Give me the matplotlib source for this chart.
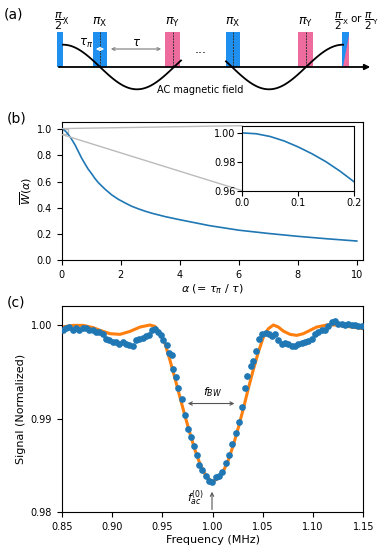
import numpy as np
import matplotlib.pyplot as plt
from matplotlib.patches import Rectangle, Polygon
from mpl_toolkits.axes_grid1.inset_locator import mark_inset

plt.rcParams['font.family'] = 'DejaVu Sans'
plt.rcParams['mathtext.fontset'] = 'dejavusans'

# (a) pulse sequence (schematic units, same scale as the sketch)
pulse_center = [60, 100, 172.5, 233, 305.5, 345.5]
pulse_width = [6, 14, 15, 14, 15, 7]
pulse_kind = ['X', 'X', 'Y', 'X', 'Y', 'XY']
pulse_label = [r'$\dfrac{\pi}{2}_\mathrm{X}$', r'$\pi_\mathrm{X}$', r'$\pi_\mathrm{Y}$',
               r'$\pi_\mathrm{X}$', r'$\pi_\mathrm{Y}$',
               r'$\dfrac{\pi}{2}_\mathrm{X}$ or $\dfrac{\pi}{2}_\mathrm{Y}$']

# (b) averaged filter weight vs alpha
alpha = [0, 0.025, 0.05, 0.075, 0.1, 0.125, 0.15, 0.175, 0.2, 0.3, 0.4, 0.452,
         0.565, 0.678, 0.79, 0.9, 1.02, 1.13, 1.24, 1.47, 1.7, 1.92, 2.15, 2.37,
         2.6, 2.83, 3.05, 3.5, 4.0, 5.0, 6.0, 7.0, 8.0, 9.0, 10.0]
w_bar = [1.0, 0.9994, 0.9975, 0.9944, 0.9903, 0.9855, 0.98, 0.9735, 0.9662,
         0.936, 0.9, 0.88, 0.829, 0.778, 0.735, 0.694, 0.658, 0.622, 0.592,
         0.541, 0.497, 0.464, 0.436, 0.411, 0.391, 0.373, 0.358, 0.332, 0.308,
         0.263, 0.228, 0.203, 0.181, 0.162, 0.145]

# (c) measured signal
freq = [0.851, 0.8543, 0.8576, 0.8609, 0.8643, 0.8676, 0.8709, 0.8742, 0.8775,
        0.8808, 0.8841, 0.8875, 0.8908, 0.8941, 0.8974, 0.9007, 0.904, 0.9073,
        0.9107, 0.914, 0.9173, 0.9206, 0.9239, 0.9272, 0.9306, 0.9339, 0.9372,
        0.9395, 0.9428, 0.9461, 0.9488, 0.9511, 0.9544, 0.9571, 0.9594, 0.9604,
        0.9634, 0.966, 0.9693, 0.9727, 0.9753, 0.9783, 0.9816, 0.9843, 0.9869,
        0.9899, 0.9932, 0.9965, 0.9998, 1.0032, 1.0065, 1.0098, 1.0131, 1.0164,
        1.0197, 1.023, 1.0264, 1.0297, 1.0323, 1.0346, 1.038, 1.04, 1.0429,
        1.0462, 1.0496, 1.0529, 1.0562, 1.0595, 1.0622, 1.0655, 1.0688, 1.0721,
        1.0754, 1.0787, 1.082, 1.0854, 1.0887, 1.092, 1.0953, 1.0986, 1.1019,
        1.1053, 1.1086, 1.1119, 1.1152, 1.1185, 1.1218, 1.1251, 1.1285, 1.1318,
        1.1351, 1.1384, 1.1417, 1.145, 1.1483]
signal = [0.99954, 0.99968, 0.99986, 0.99947, 0.99972, 0.99947, 0.99968, 0.99975,
          0.99947, 0.99947, 0.99925, 0.99932, 0.99911, 0.99858, 0.99847, 0.99822,
          0.99818, 0.99804, 0.99822, 0.99797, 0.99786, 0.99783, 0.99847, 0.99854,
          0.99868, 0.99886, 0.99893, 0.99954, 0.99964, 0.99929, 0.999, 0.9984,
          0.99786, 0.99705, 0.99687, 0.99537, 0.99448, 0.99334, 0.99217, 0.99036,
          0.98893, 0.98808, 0.98709, 0.98612, 0.98505, 0.98452, 0.98391, 0.98334,
          0.98327, 0.98381, 0.98391, 0.98434, 0.98523, 0.98612, 0.98729, 0.9885,
          0.98968, 0.99128, 0.99334, 0.99459, 0.99562, 0.99619, 0.99726, 0.99858,
          0.99904, 0.99918, 0.99904, 0.99883, 0.99904, 0.99847, 0.99804, 0.99811,
          0.99797, 0.99783, 0.99776, 0.99797, 0.99811, 0.99818, 0.99833, 0.99858,
          0.99904, 0.99929, 0.99954, 0.99947, 0.99989, 1.00036, 1.00046, 1.00011,
          1.00018, 1.0, 1.00018, 1.0, 1.0, 0.99993, 0.99993]

# (c) fitted curve
fit_freq = [0.85, 0.8616, 0.8715, 0.8815, 0.8881, 0.8981, 0.908, 0.918, 0.9279,
            0.9378, 0.9428, 0.9478, 0.9528, 0.9577, 0.9627, 0.9677, 0.9727, 0.9776,
            0.9826, 0.9876, 0.9925, 0.9975, 1.0008, 1.0058, 1.0108, 1.0157, 1.0207,
            1.0257, 1.0307, 1.0356, 1.0406, 1.0456, 1.0506, 1.0555, 1.0605, 1.0655,
            1.0704, 1.0771, 1.0837, 1.0903, 1.097, 1.1036, 1.1136, 1.1235, 1.1335,
            1.1434, 1.15]
fit_signal = [0.99982, 1.0, 1.0, 0.99975, 0.99947, 0.99911, 0.99904, 0.99936,
              0.99982, 1.00004, 0.99989, 0.99918, 0.99804, 0.99626, 0.99431,
              0.99228, 0.99028, 0.98843, 0.98665, 0.98516, 0.98409, 0.98345,
              0.98334, 0.98363, 0.98441, 0.98559, 0.98719, 0.98907, 0.9911,
              0.99324, 0.99527, 0.99715, 0.99875, 0.99964, 1.00004, 0.99982,
              0.99939, 0.99904, 0.99893, 0.99911, 0.99947, 0.99982, 1.00004,
              1.00004, 0.99989, 0.99975, 0.99964]

blue_pulse = '#1f8ff0'
pink_pulse = '#ee6b9e'

fig = plt.figure(figsize=(3.8, 5.5), dpi=100)

# ---------------- (a) schematic ----------------
ax_a = fig.add_axes([0, 1 - 100 / 550, 1, 100 / 550])
ax_a.set_xlim(0, 380)
ax_a.set_ylim(100, 0)
ax_a.axis('off')

base_y, top_y = 67, 32
for c, w, k, lab in zip(pulse_center, pulse_width, pulse_kind, pulse_label):
    col = pink_pulse if k == 'Y' else blue_pulse
    ax_a.add_patch(Rectangle((c - w / 2, top_y), w, base_y - top_y, color=col, lw=0, zorder=1))
    if k == 'XY':
        ax_a.add_patch(Polygon([(c + w / 2, top_y + 3), (c + w / 2, base_y), (c - w / 2 + 0.5, base_y)],
                               color=pink_pulse, lw=0, zorder=1))
    if w > 10:
        ax_a.plot([c, c], [top_y, base_y], color='#333333', lw=0.7, ls=(0, (2, 1)), zorder=2)
    if k == 'XY':
        ax_a.text(379, 21, lab, ha='right', va='center', fontsize=7.5)
    elif w < 10:
        ax_a.text(c + 2, 21, lab, ha='center', va='center', fontsize=8)
    else:
        ax_a.text(c, 22, lab, ha='center', va='center', fontsize=9)

ax_a.annotate('', xy=(373, base_y), xytext=(56, base_y),
              arrowprops=dict(arrowstyle='-|>', color='black', lw=1.3, mutation_scale=8), zorder=3)

# AC field sketch
half = 74
amp = 22.3
for x0, x1, xc in [(63, 181, 100), (226, 343, 232)]:
    xs = np.linspace(x0, x1, 120)
    ax_a.plot(xs, base_y + amp * np.sin(np.pi * (xs - xc) / half), color='black', lw=1.3, zorder=4)

ax_a.annotate('', xy=(93, 49), xytext=(107, 49),
              arrowprops=dict(arrowstyle='<->', color='white', lw=0.9, mutation_scale=5), zorder=5)
ax_a.annotate('', xy=(108, 49), xytext=(164, 49),
              arrowprops=dict(arrowstyle='<->', color='#888888', lw=0.9, mutation_scale=5), zorder=5)
ax_a.text(86, 43, r'$\tau_\pi$', ha='center', va='center', fontsize=8.5)
ax_a.text(137, 42, r'$\tau$', ha='center', va='center', fontsize=8.5)
ax_a.text(201, 49, '...', ha='center', va='center', fontsize=9)
ax_a.text(200, 90, 'AC magnetic field', ha='center', va='center', fontsize=7)
ax_a.text(4, 15, '(a)', ha='left', va='center', fontsize=10)

# ---------------- (b) ----------------
ax_b = fig.add_axes([0.1624, 0.5273, 0.7937, 0.2503])
ax_b.plot(alpha, w_bar, color='#1f77b4', lw=1.2)
ax_b.set_xlim(0, 10.22)
ax_b.set_ylim(0, 1.053)
ax_b.set_xticks([0, 2, 4, 6, 8, 10])
ax_b.set_yticks([0.0, 0.2, 0.4, 0.6, 0.8, 1.0])
ax_b.set_yticklabels(['0.0', '0.2', '0.4', '0.6', '0.8', '1.0'])
ax_b.tick_params(labelsize=7)
ax_b.set_xlabel(r'$\alpha$ (= $\tau_\pi$ / $\tau$)', fontsize=8, labelpad=2)
ax_b.set_ylabel(r'$\overline{W}(\alpha)$', fontsize=8, labelpad=2)
fig.text(0.018, 1 - 118 / 550, '(b)', ha='left', va='center', fontsize=10)

axins = fig.add_axes([0.6376, 0.6533, 0.294, 0.1182])
axins.plot(alpha, w_bar, color='#1f77b4', lw=1.2)
axins.set_xlim(0, 0.2)
axins.set_ylim(0.96, 1.005)
axins.set_xticks([0.0, 0.1, 0.2])
axins.set_yticks([0.96, 0.98, 1.00])
axins.set_yticklabels(['0.96', '0.98', '1.00'])
axins.tick_params(labelsize=7, pad=1.5)
mark_inset(ax_b, axins, loc1=2, loc2=3, fc='none', ec='#bbbbbb', lw=1)

# ---------------- (c) ----------------
ax_c = fig.add_axes([0.1624, 0.0685, 0.7937, 0.3756])
ax_c.plot(fit_freq, fit_signal, color='#ff7f0e', lw=2.2, zorder=2)
ax_c.plot(freq, signal, 'o', color='#1f77b4', ms=3.8, zorder=3)
ax_c.set_xlim(0.85, 1.15)
ax_c.set_ylim(0.98, 1.0021)
ax_c.set_xticks([0.85, 0.90, 0.95, 1.00, 1.05, 1.10, 1.15])
ax_c.set_xticklabels(['0.85', '0.90', '0.95', '1.00', '1.05', '1.10', '1.15'])
ax_c.set_yticks([0.98, 0.99, 1.00])
ax_c.set_yticklabels(['0.98', '0.99', '1.00'])
ax_c.tick_params(labelsize=7)
ax_c.set_xlabel('Frequency (MHz)', fontsize=8, labelpad=2)
ax_c.set_ylabel('Signal (Normalized)', fontsize=8, labelpad=3)

ax_c.annotate('', xy=(0.9726, 0.99164), xytext=(1.0246, 0.99164),
              arrowprops=dict(arrowstyle='<->', color='#555555', lw=0.8, mutation_scale=6))
ax_c.text(1.0005, 0.9929, r'$f_{BW}$', ha='center', va='center', fontsize=8)
ax_c.annotate('', xy=(0.9995, 0.9825), xytext=(0.9995, 0.98),
              arrowprops=dict(arrowstyle='->', color='#555555', lw=0.8, mutation_scale=6))
ax_c.text(0.9826, 0.9815, r'$f_{ac}^{(0)}$', ha='center', va='center', fontsize=8)
fig.text(0.018, 1 - 303 / 550, '(c)', ha='left', va='center', fontsize=10)

fig.savefig('out.png', dpi=100)
